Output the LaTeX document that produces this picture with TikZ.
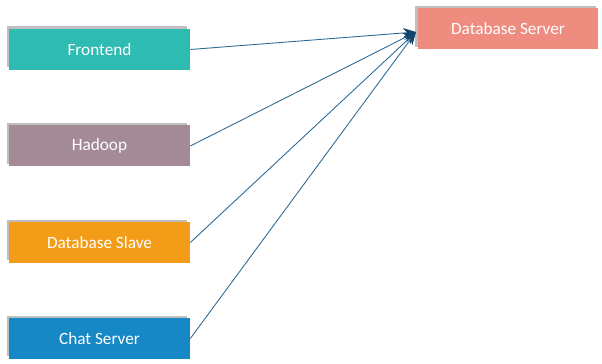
\documentclass[tikz,border=0pt]{standalone}
\usepackage{fontspec}
\setmainfont{Carlito}
\usetikzlibrary{arrows.meta,shadows}
\definecolor{SrvTeal}{HTML}{2EBBB1}
\definecolor{SrvMauve}{HTML}{A38A96}
\definecolor{SrvOrange}{HTML}{F29C17}
\definecolor{SrvBlue}{HTML}{1788C6}
\definecolor{SrvSalmon}{HTML}{EE8C7F}
\definecolor{SrvLine}{HTML}{2A6A96}
\definecolor{SrvTip}{HTML}{14456E}
\tikzset{
  srvbox/.style={rectangle,minimum width=3.62cm,minimum height=0.82cm,inner sep=0pt,
    text=white,font=\fontsize{9.8}{12}\selectfont,
    drop shadow={shadow xshift=-0.05cm,shadow yshift=0.05cm,fill=black,opacity=0.25}},
  link/.style={SrvLine,line width=0.5pt,-{Stealth[length=2.6mm,width=2mm,color=SrvTip]}}
}

\begin{document}
\begin{tikzpicture}[x=0.02cm,y=-0.02cm]
\path[use as bounding box] (0,0) rectangle (602,364);
\node[srvbox,fill=SrvTeal] (frontend) at (99.5,49.5) {Frontend};
\node[srvbox,fill=SrvMauve] (hadoop) at (99.5,146) {Hadoop};
\node[srvbox,fill=SrvOrange] (dbslave) at (99.5,242.5) {Database Slave};
\node[srvbox,fill=SrvBlue] (chatserver) at (99.5,338.5) {Chat Server};
\node[srvbox,fill=SrvSalmon] (dbserver) at (508,29) {Database Server};
\coordinate (hub) at (416,32);
\draw[link] (frontend.east) -- (hub);
\draw[link] (hadoop.east) -- (hub);
\draw[link] (dbslave.east) -- (hub);
\draw[link] (chatserver.east) -- (hub);
\end{tikzpicture}
\end{document}
